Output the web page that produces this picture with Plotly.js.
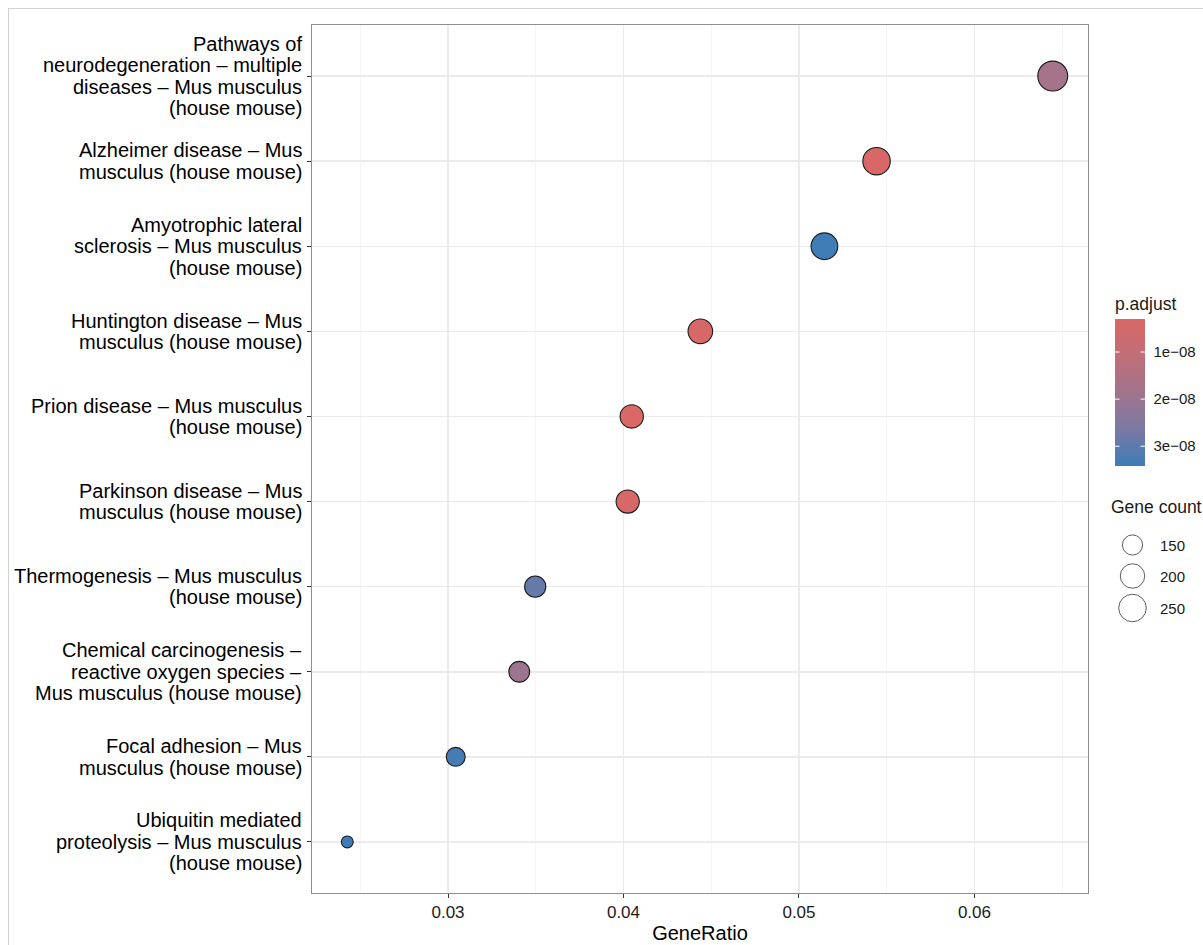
<!DOCTYPE html>
<html>
<head>
<meta charset="utf-8">
<script src="https://cdn.plot.ly/plotly-3.0.1.min.js"></script>
<style>
  html, body { margin: 0; padding: 0; background: #ffffff; }
  #chart { position: absolute; left: 0; top: 0; width: 1203px; height: 945px; }
  #frame { position: absolute; left: 8px; top: 8px; width: 1195px; height: 937px;
           border-left: 1px solid #d2d2d2; border-top: 1px solid #d2d2d2; pointer-events: none; }
</style>
</head>
<body>
<div id="chart"></div>
<div id="frame"></div>
<script>
// ---------------- data ----------------
const pathwayLabels = [
  "Pathways of\nneurodegeneration – multiple\ndiseases – Mus musculus\n(house mouse)",
  "Alzheimer disease – Mus\nmusculus (house mouse)",
  "Amyotrophic lateral\nsclerosis – Mus musculus\n(house mouse)",
  "Huntington disease – Mus\nmusculus (house mouse)",
  "Prion disease – Mus musculus\n(house mouse)",
  "Parkinson disease – Mus\nmusculus (house mouse)",
  "Thermogenesis – Mus musculus\n(house mouse)",
  "Chemical carcinogenesis –\nreactive oxygen species –\nMus musculus (house mouse)",
  "Focal adhesion – Mus\nmusculus (house mouse)",
  "Ubiquitin mediated\nproteolysis – Mus musculus\n(house mouse)"
];
const geneRatio = [0.06446, 0.05442, 0.05145, 0.04438, 0.04047, 0.04024, 0.03497, 0.03406, 0.03044, 0.02426];
const geneCount = [297, 250, 237, 204, 186, 185, 161, 157, 140, 112];
const pAdjust   = [1.80e-8, 3.6e-9, 3.38e-8, 4.2e-9, 3.2e-9, 3.7e-9, 2.9e-8, 2.0e-8, 3.3e-8, 3.42e-8];
const colorTickValues = [1e-8, 2e-8, 3e-8];
const colorTickLabels = ["1e\u221208", "2e\u221208", "3e\u221208"];
const sizeBreaks = [150, 200, 250];
const xTickValues = [0.03, 0.04, 0.05, 0.06];

// ---------------- scales ----------------
const FONT = "Liberation Sans, Arial, Helvetica, sans-serif";
const cMin = Math.min(...geneCount), cMax = Math.max(...geneCount);
function sizeScale(c) { // ggplot-like area scale, diameter in px
  return 13 + 18 * Math.sqrt(Math.max(0, (c - cMin) / (cMax - cMin)));
}
const LW = 1.1;
// enrichplot-like colours, interpolated (Lab) red -> blue
const colorscale = [
  [0.00, "#3d7cb7"],
  [0.25, "rgb(122,121,163)"],
  [0.50, "rgb(162,116,140)"],
  [0.75, "rgb(192,110,119)"],
  [1.00, "#d96866"]
];

const n = pathwayLabels.length;
const catOrder = pathwayLabels.slice().reverse(); // bottom first

// plot geometry (pixels)
const W = 1203, H = 945;
const mL = 312, mR = 0, mT = 25, mB = 52;
const plotRight = 1088;
const pw = W - mL - mR, ph = H - mT - mB;
const xDomainEnd = (plotRight - mL) / pw;

// colour bar geometry (pixels)
const cbLeft = 1115, cbThick = 30, cbTop = 320, cbBottom = 466, cbTitleH = 26;
const pLo = Math.min(...pAdjust), pHi = Math.max(...pAdjust);
const toPaperX = px => (px - mL) / pw;
const toPaperY = py => (H - mB - py) / ph;

const traces = [{
  type: "scatter",
  mode: "markers",
  x: geneRatio,
  y: pathwayLabels,
  xaxis: "x", yaxis: "y",
  hoverinfo: "skip",
  showlegend: false,
  marker: {
    size: geneCount.map(c => sizeScale(c) - LW),
    color: pAdjust.map(v => -v),
    cmin: -pHi,
    cmax: -pLo,
    colorscale: colorscale,
    line: { color: "#1a1a1a", width: LW },
    opacity: 1,
    showscale: true,
    colorbar: {
      x: toPaperX(cbLeft), xanchor: "left", xpad: 0,
      y: toPaperY(cbBottom), yanchor: "bottom", ypad: 0,
      len: (cbBottom - cbTop) + cbTitleH, lenmode: "pixels",
      thickness: cbThick, thicknessmode: "pixels",
      outlinewidth: 0,
      tickmode: "array",
      tickvals: colorTickValues.map(v => -v),
      ticktext: colorTickLabels,
      ticks: "outside", ticklen: 6, tickwidth: 1, tickcolor: "rgba(0,0,0,0)",
      tickfont: { family: FONT, size: 15, color: "#1a1a1a" },
      title: { text: "p.adjust", side: "top", font: { family: FONT, size: 17.5, color: "#1a1a1a" } }
    }
  }
}, {
  // size legend keys
  type: "scatter",
  mode: "markers",
  x: sizeBreaks.map(() => 1132.5),
  y: [545, 576, 608],
  xaxis: "x2", yaxis: "y2",
  hoverinfo: "skip",
  showlegend: false,
  marker: {
    size: sizeBreaks.map(c => sizeScale(c) - 1),
    color: "rgba(255,255,255,0)",
    line: { color: "#1a1a1a", width: 1 }
  }
}];

const annotations = [];

// white tick marks inside the colour bar (both edges, ggplot style)
colorTickValues.forEach(v => {
  const py = cbTop + (v - pLo) / (pHi - pLo) * (cbBottom - cbTop);
  const yp = toPaperY(py);
  [[toPaperX(cbLeft), 6], [toPaperX(cbLeft + cbThick), -6]].forEach(([xp, dx]) => {
    annotations.push({
      xref: "paper", yref: "paper", x: xp, y: yp,
      text: "", showarrow: true, arrowhead: 0, arrowwidth: 1, arrowcolor: "#ffffff",
      ax: dx, ay: 0, standoff: 0, startstandoff: 0
    });
  });
});

const LINE_H = 21.5;
pathwayLabels.forEach((lab, i) => {
  const lines = lab.split("\n");
  const m = lines.length;
  lines.forEach((ln, j) => {
    annotations.push({
      xref: "paper", yref: "y",
      x: 0, y: n - 1 - i,
      xanchor: "right", yanchor: "middle",
      xshift: -8,
      yshift: ((m - 1) / 2 - j) * LINE_H,
      text: ln, showarrow: false, align: "right",
      font: { family: FONT, size: 20, color: "#000000" }
    });
  });
});
annotations.push({
  xref: "x2", yref: "y2", x: 1109, y: 507, xanchor: "left", yanchor: "middle",
  text: "Gene count", showarrow: false,
  font: { family: FONT, size: 17.5, color: "#1a1a1a" }
});
sizeBreaks.forEach((b, k) => {
  annotations.push({
    xref: "x2", yref: "y2", x: 1158, y: [545, 576, 608][k], xanchor: "left", yanchor: "middle",
    text: String(b), showarrow: false,
    font: { family: FONT, size: 15, color: "#1a1a1a" }
  });
});

const layout = {
  width: W, height: H,
  margin: { l: mL, r: mR, t: mT, b: mB, pad: 0 },
  paper_bgcolor: "#ffffff",
  plot_bgcolor: "#ffffff",
  font: { family: FONT, color: "#000000" },
  showlegend: false,
  xaxis: {
    domain: [0, xDomainEnd],
    anchor: "y",
    range: [0.02225, 0.06647],
    tickmode: "array",
    tickvals: xTickValues,
    ticktext: xTickValues.map(v => v.toFixed(2)),
    ticks: "outside", ticklen: 4, tickwidth: 1, tickcolor: "#333333",
    tickfont: { family: FONT, size: 17, color: "#1a1a1a" },
    showgrid: true, gridcolor: "#EBEBEB", gridwidth: 1.5,
    minor: { dtick: 0.005, tick0: 0, showgrid: true, gridcolor: "#F5F5F5", gridwidth: 1, ticks: "" },
    zeroline: false,
    showline: true, mirror: true, linecolor: "#8f8f8f", linewidth: 1,
    title: { text: "GeneRatio", font: { family: FONT, size: 20, color: "#000000" }, standoff: 4 },
    automargin: false,
    fixedrange: true
  },
  yaxis: {
    domain: [0, 1],
    anchor: "x",
    type: "category",
    categoryorder: "array",
    categoryarray: catOrder,
    range: [-0.6, n - 1 + 0.6],
    showticklabels: false,
    ticks: "outside", ticklen: 4, tickwidth: 1, tickcolor: "#333333",
    showgrid: true, gridcolor: "#EBEBEB", gridwidth: 1.5,
    zeroline: false,
    showline: true, mirror: true, linecolor: "#8f8f8f", linewidth: 1,
    automargin: false,
    fixedrange: true
  },
  xaxis2: {
    domain: [(1100 - mL) / pw, 1],
    anchor: "y2",
    range: [1100, W],
    visible: false, fixedrange: true
  },
  yaxis2: {
    domain: [0, 1],
    anchor: "x2",
    range: [H - mB, mT],
    visible: false, fixedrange: true
  },
  annotations: annotations
};

Plotly.newPlot("chart", traces, layout, { staticPlot: true, displayModeBar: false });
</script>
</body>
</html>
